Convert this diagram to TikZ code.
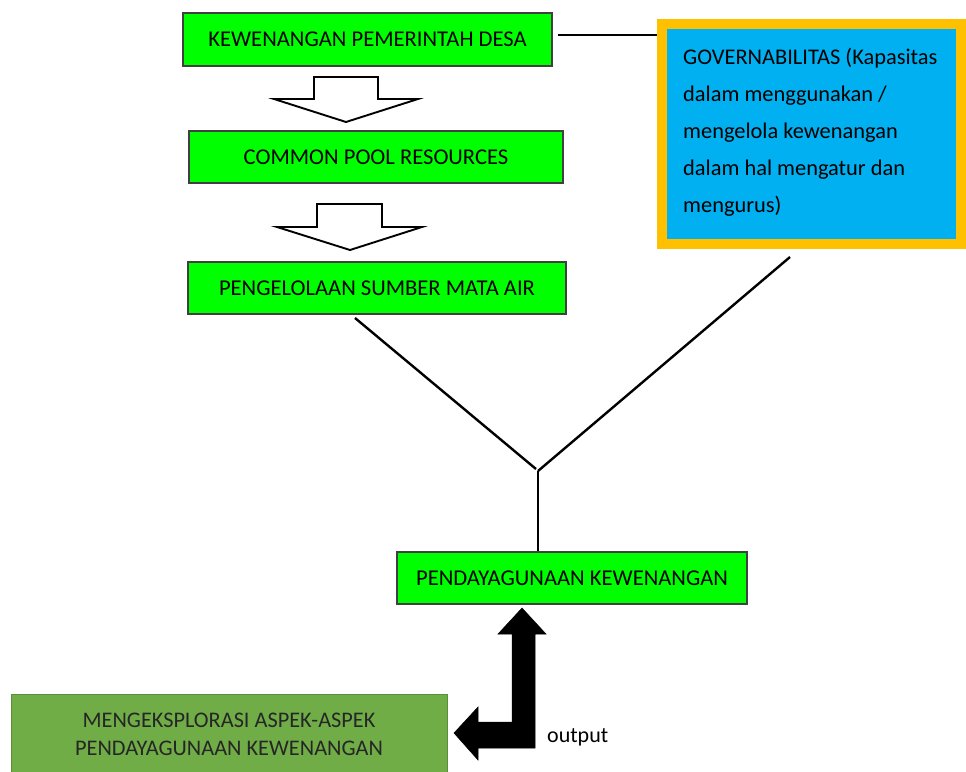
\documentclass[tikz,border=0pt]{standalone}
\usepackage{fontspec}
\setmainfont{Carlito}
\usetikzlibrary{calc}
\definecolor{boxgreen}{HTML}{00FF00}
\definecolor{olive}{HTML}{70AD47}
\definecolor{olivedark}{HTML}{5B8F3A}
\definecolor{govblue}{HTML}{00B0F0}
\definecolor{govyellow}{HTML}{FFC000}
\begin{document}
\begin{tikzpicture}[x=1pt,y=-1pt,
  gbox/.style={draw=black!75, line width=1.3pt, fill=boxgreen, inner sep=0pt,
    font=\fontsize{22.6}{26}\selectfont},
  obox/.style={draw=olivedark, line width=0.8pt, fill=olive, inner sep=0pt, align=center,
    text=black!85, font=\fontsize{22.3}{28}\selectfont},
  govbox/.style={draw=govyellow, line width=10pt, fill=govblue, inner sep=0pt},
  conn/.style={draw=black, line width=2.4pt},
  hollow/.style={draw=black, line width=1.9pt, fill=white, line join=miter},
  solidarrow/.style={fill=black, draw=black, line width=0.5pt, line join=miter},
  lbl/.style={font=\fontsize{22}{26}\selectfont, inner sep=0pt}
]
\useasboundingbox (0,0) rectangle (966,771);

% boxes
\node[gbox, minimum width=369pt, minimum height=53pt] (b1) at (367.5,39.5) {KEWENANGAN PEMERINTAH DESA};
\node[gbox, minimum width=374pt, minimum height=52pt] (b2) at (376,157) {COMMON POOL RESOURCES};
\node[gbox, minimum width=378pt, minimum height=52pt] (b3) at (377,288) {PENGELOLAAN SUMBER MATA AIR};
\node[gbox, minimum width=350pt, minimum height=52pt] (b4) at (572,578) {PENDAYAGUNAAN KEWENANGAN};
\node[obox, minimum width=436pt, minimum height=80pt] (b5) at (229,734) {MENGEKSPLORASI ASPEK-ASPEK\\PENDAYAGUNAAN KEWENANGAN};

\node[govbox, minimum width=299pt, minimum height=220pt] (gov) at (811.5,134) {};
\node[lbl, anchor=west, align=left, font=\fontsize{22.4}{37}\selectfont] (govtext) at (683,132)
  {GOVERNABILITAS (Kapasitas\\dalam menggunakan /\\mengelola kewenangan\\dalam hal mengatur dan\\mengurus)};

% hollow arrows
\path[hollow] (314,77) -- (378,77) -- (378,99) -- (418,99) -- (346,122) -- (274,99) -- (314,99) -- cycle;
\path[hollow] (317,204) -- (382,204) -- (382,227) -- (422,227) -- (350,250) -- (277,227) -- (317,227) -- cycle;

% connectors
\coordinate (b1r) at (558,35);
\coordinate (b3s) at (355,318);
\coordinate (govs) at (790,257);
\coordinate (jl) at (536,469);
\coordinate (jr) at (538,471);
\draw[conn] (b1r) -- (b1r -| gov.west);
\draw[conn] (b3s) -- (jl);
\draw[conn] (govs) -- (jr);
\draw[conn] (jr) -- (jr |- b4.north);

% elbow output arrow
\path[solidarrow] (522,608) -- (546,634) -- (535,634) -- (535,748) -- (478,748) -- (478,760)
  -- (454,733) -- (478,707) -- (478,722) -- (512,722) -- (512,634) -- (498,634) -- cycle;
\node[lbl, anchor=west] (out) at (547,737) {output};
\end{tikzpicture}
\end{document}
